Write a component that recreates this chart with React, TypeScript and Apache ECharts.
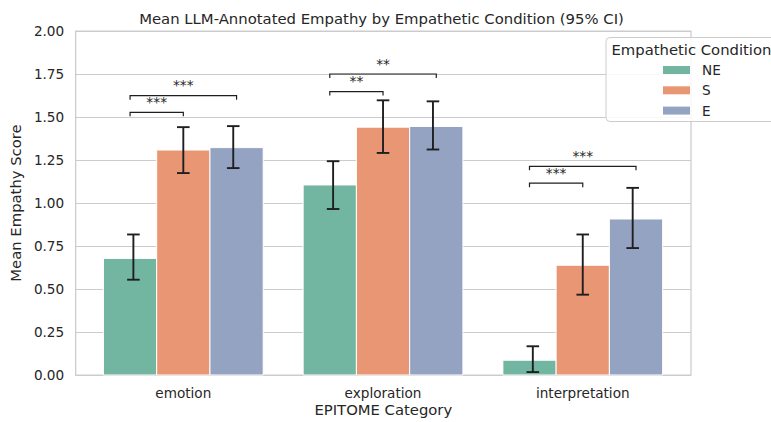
import React, { useEffect, useRef } from 'react';
import * as echarts from 'echarts';

const categories = ['emotion', 'exploration', 'interpretation'];
const conditions = ['NE', 'S', 'E'];

const meanNE = [0.678, 1.105, 0.086];
const meanS = [1.308, 1.441, 0.638];
const meanE = [1.322, 1.445, 0.907];

const ciLowNE = [0.554, 0.965, 0.017];
const ciHighNE = [0.817, 1.243, 0.167];
const ciLowS = [1.174, 1.291, 0.467];
const ciHighS = [1.441, 1.597, 0.817];
const ciLowE = [1.203, 1.311, 0.738];
const ciHighE = [1.447, 1.591, 1.088];

// significance brackets: category index, compared hue (vs NE), height, label
const bracketCat = [0, 0, 1, 1, 2, 2];
const bracketTo = [1, 2, 1, 2, 1, 2];
const bracketY = [1.527, 1.624, 1.648, 1.75, 1.115, 1.213];
const bracketLabel = ['***', '***', '**', '**', '***', '***'];

const colors = ['#72b6a1', '#e99675', '#95a3c3'];
const FONT = 'DejaVu Sans';
const TXT = '#262626';
const HUE_W = 0.8 / 3;
const ERR_DODGE = 0.25;

function hueX(cat: number, hue: number) {
  return cat + (hue - 1) * HUE_W;
}

export default function App() {
  const ref = useRef<HTMLDivElement>(null);

  useEffect(() => {
    if (!ref.current) return;
    const chart = echarts.init(ref.current, null, { renderer: 'svg' });
    const means = [meanNE, meanS, meanE];
    const lows = [ciLowNE, ciLowS, ciLowE];
    const highs = [ciHighNE, ciHighS, ciHighE];

    const barSeries = conditions.map((name, h) => ({
      type: 'custom',
      name,
      silent: true,
      z: 2,
      itemStyle: { color: colors[h] },
      encode: { x: 0, y: 1 },
      data: categories.map((_, c) => [c, means[h][c]]),
      renderItem: (params: any, api: any) => {
        const c = api.value(0);
        const v = api.value(1);
        const x0 = hueX(c, h) - HUE_W / 2;
        const p0 = api.coord([x0, v]);
        const p1 = api.coord([x0 + HUE_W, 0]);
        return {
          type: 'rect',
          shape: { x: p0[0], y: p0[1], width: p1[0] - p0[0], height: p1[1] - p0[1] },
          style: { fill: colors[h], stroke: '#ffffff', lineWidth: 1 },
        };
      },
    }));

    const ciData: number[][] = [];
    conditions.forEach((_, h) => {
      categories.forEach((__, c) => {
        ciData.push([c + (h - 1) * ERR_DODGE, lows[h][c], highs[h][c]]);
      });
    });

    const ciSeries = {
      type: 'custom',
      name: 'ci',
      silent: true,
      z: 4,
      encode: { x: 0, y: [1, 2] },
      data: ciData,
      renderItem: (params: any, api: any) => {
        const x = api.value(0);
        const lo = api.coord([x, api.value(1)]);
        const hi = api.coord([x, api.value(2)]);
        const half = api.size([0.063, 0])[0] / 2;
        const st = { stroke: '#1f1f1f', lineWidth: 1.9 };
        return {
          type: 'group',
          children: [
            { type: 'line', shape: { x1: lo[0], y1: lo[1], x2: hi[0], y2: hi[1] }, style: st },
            { type: 'line', shape: { x1: lo[0] - half, y1: lo[1], x2: lo[0] + half, y2: lo[1] }, style: st },
            { type: 'line', shape: { x1: hi[0] - half, y1: hi[1], x2: hi[0] + half, y2: hi[1] }, style: st },
          ],
        };
      },
    };

    const bracketSeries = {
      type: 'custom',
      name: 'sig',
      silent: true,
      z: 5,
      encode: { x: 0, y: 2 },
      data: bracketCat.map((c, i) => [c, bracketTo[i], bracketY[i]]),
      renderItem: (params: any, api: any) => {
        const c = api.value(0);
        const to = api.value(1);
        const y = api.value(2);
        const a = api.coord([hueX(c, 0), y]);
        const b = api.coord([hueX(c, to), y]);
        const drop = 4;
        return {
          type: 'group',
          children: [
            {
              type: 'polyline',
              shape: { points: [[a[0], a[1] + drop], [a[0], a[1]], [b[0], b[1]], [b[0], b[1] + drop]] },
              style: { stroke: '#1f1f1f', lineWidth: 1.2, fill: 'none' },
            },
            {
              type: 'text',
              x: (a[0] + b[0]) / 2,
              y: a[1] - 10.5,
              style: {
                text: bracketLabel[params.dataIndex],
                fill: TXT,
                fontSize: 13.8,
                fontFamily: FONT,
                align: 'center',
                verticalAlign: 'middle',
              },
            },
          ],
        };
      },
    };

    const catLabelSeries = {
      type: 'custom',
      name: 'cat',
      silent: true,
      z: 5,
      encode: { x: 0, y: 1 },
      data: categories.map((_, c) => [c, 0]),
      renderItem: (params: any, api: any) => {
        const p = api.coord([api.value(0), 0]);
        return {
          type: 'text',
          x: p[0],
          y: p[1] + 17.5,
          style: {
            text: categories[params.dataIndex],
            fill: TXT,
            fontSize: 13.6,
            fontFamily: FONT,
            align: 'center',
            verticalAlign: 'middle',
          },
        };
      },
    };

    chart.setOption({
      animation: false,
      backgroundColor: '#ffffff',
      title: {
        text: 'Mean LLM-Annotated Empathy by Empathetic Condition (95% CI)',
        left: 381.5,
        top: 11.5,
        padding: 0,
        textAlign: 'center',
        textStyle: { fontSize: 14.85, fontWeight: 'normal', color: TXT, fontFamily: FONT },
      },
      grid: {
        show: true,
        left: 72,
        right: 80,
        top: 31,
        bottom: 44,
        borderColor: '#cccccc',
        borderWidth: 1.25,
        backgroundColor: 'transparent',
      },
      legend: {
        data: conditions,
        orient: 'vertical',
        left: 663,
        top: 63,
        padding: 0,
        itemWidth: 27,
        itemHeight: 8,
        itemGap: 6.3,
        icon: 'rect',
        selectedMode: false,
        z: 6,
        textStyle: { fontSize: 13.6, color: TXT, fontFamily: FONT, padding: [0, 0, 0, 7] },
      },
      xAxis: {
        type: 'value',
        min: -0.539,
        max: 2.542,
        name: 'EPITOME Category',
        nameLocation: 'middle',
        nameGap: 27,
        nameTextStyle: { fontSize: 14.8, color: TXT, fontFamily: FONT },
        axisLabel: { show: false },
        axisTick: { show: false },
        axisLine: { show: false },
        splitLine: { show: false },
      },
      yAxis: {
        type: 'value',
        min: 0,
        max: 2,
        interval: 0.25,
        name: 'Mean Empathy Score',
        nameLocation: 'middle',
        nameGap: 47,
        nameTextStyle: { fontSize: 14.8, color: TXT, fontFamily: FONT },
        axisLabel: {
          formatter: (v: number) => v.toFixed(2),
          fontSize: 13.6,
          color: TXT,
          fontFamily: FONT,
          margin: 11.5,
        },
        axisLine: { show: false },
        axisTick: { show: false },
        splitLine: { lineStyle: { color: '#cccccc', width: 1.2 } },
      },
      graphic: [
        {
          type: 'rect',
          z: 5,
          silent: true,
          shape: { x: 606, y: 37.5, width: 200, height: 84, r: 4 },
          style: { fill: 'rgba(255,255,255,0.85)', stroke: '#cccccc', lineWidth: 1 },
        },
        {
          type: 'text',
          z: 6,
          silent: true,
          x: 611.5,
          y: 49.5,
          style: {
            text: 'Empathetic Condition',
            fontSize: 14.8,
            fontFamily: FONT,
            fill: TXT,
            verticalAlign: 'middle',
          },
        },
      ],
      series: [...barSeries, ciSeries, bracketSeries, catLabelSeries],
    } as any);

    return () => chart.dispose();
  }, []);

  return (
    <div
      ref={ref}
      style={{ position: 'absolute', left: 0, top: 0, width: 771, height: 422 }}
    />
  );
}
